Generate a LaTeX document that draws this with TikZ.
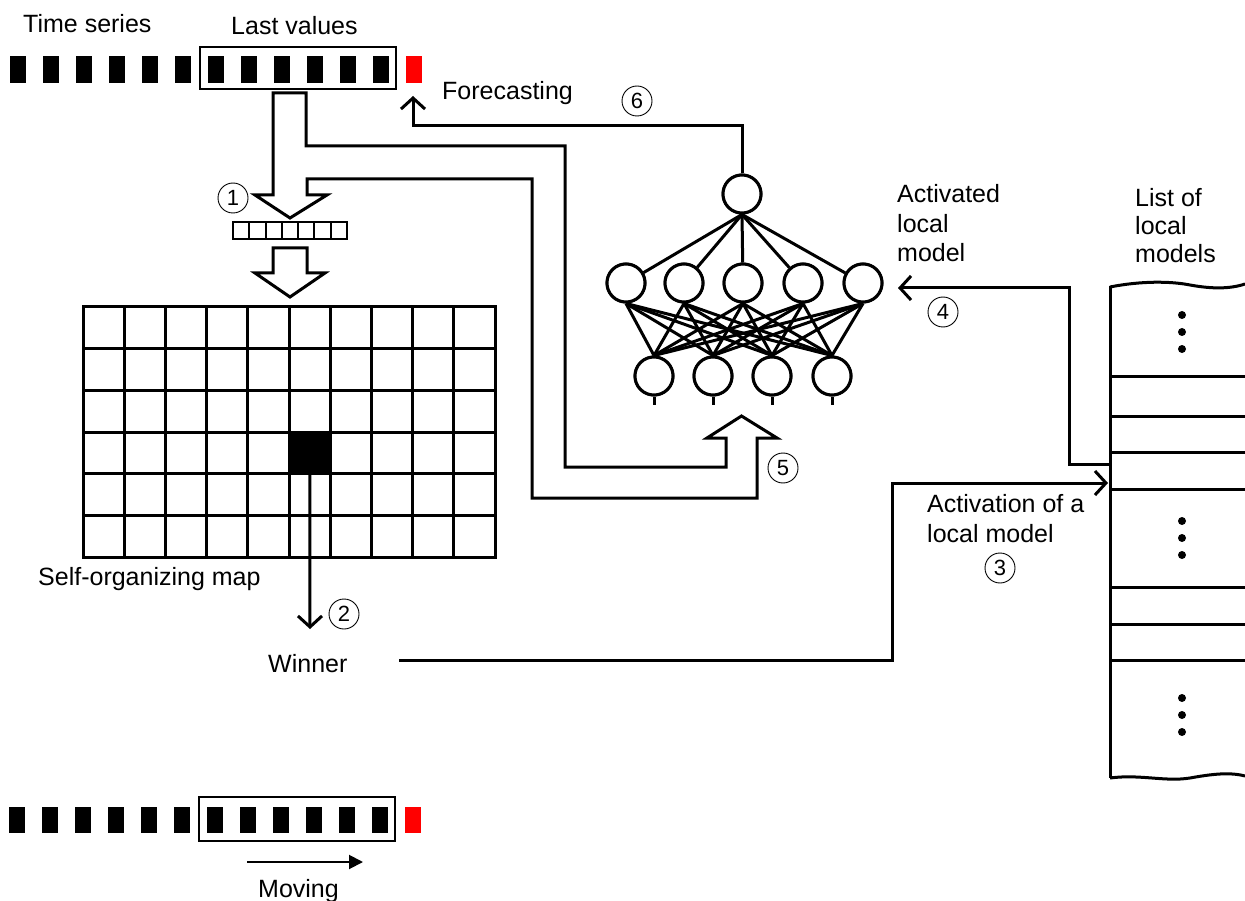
\documentclass[tikz,border=0pt]{standalone}
\usepackage{fontspec}
\setmainfont{Liberation Sans}
\usetikzlibrary{arrows.meta}
\definecolor{fred}{RGB}{255,0,0}
\begin{document}
\begin{tikzpicture}[x=1pt,y=-1pt,
  lbl/.style={anchor=base west,inner sep=0pt,font=\fontsize{25}{30}\selectfont},
  conn/.style={line width=3pt},
  thinbox/.style={line width=2pt},
  num/.style={circle,draw,line width=0.9pt,minimum size=30pt,inner sep=0pt,font=\fontsize{22}{24}\selectfont},
  neuron/.style={circle,draw,line width=3pt,minimum size=38pt,inner sep=0pt,fill=white},
  barb/.style={-{Straight Barb[length=11pt,width=24pt]}},
  hollow/.style={line width=3pt,line join=miter,fill=white},
]
\useasboundingbox (0,0) rectangle (1245,901);

% ---------- top time series ----------
\foreach \k in {0,...,11} \fill ({10+33*\k},56) rectangle ++(16,27);
\fill[fred] (406,56) rectangle ++(16,27);
\draw[thinbox] (200,47) rectangle (396,89);
\node[lbl] (ts) at (23,33) {Time series};
\node[lbl] (lv) at (231,35) {Last values};
\node[inner sep=0pt,minimum width=16pt,minimum height=27pt] (pred) at (414,69.5) {};

% ---------- big hollow split arrow ----------
\draw[hollow] (273,93) -- (306,93) -- (306,146) -- (565,146) -- (565,467) -- (726,467)
  -- (726,438) -- (707,438) -- (741.5,416) -- (777,438) -- (757,438) -- (757,498)
  -- (532,498) -- (532,179) -- (307,179) -- (307,195) -- (327,195) -- (290,218)
  -- (255,195) -- (273,195) -- cycle;

% ---------- input vector ----------
\draw[thinbox] (233,222) rectangle (347,239);
\foreach \i in {1,...,6} \draw[thinbox] ({233+\i*16.286},222) -- ++(0,17);

% second hollow arrow
\draw[hollow] (273,248) -- (307,248) -- (307,273) -- (325,273) -- (290,297) -- (255,273) -- (273,273) -- cycle;

% ---------- self-organizing map ----------
\node[fill=black,inner sep=0pt,minimum width=41.2pt,minimum height=41.7pt,anchor=north west] (wcell) at (289.0,432.0) {};
\foreach \i in {0,...,10} \draw[conn] ({83+\i*41.2},307) -- ({83+\i*41.2},557);
\foreach \j in {0,...,6} \draw[conn,line cap=rect] (83,{307+\j*41.667}) -- (495,{307+\j*41.667});
\node[lbl] (som) at (38,585) {Self-organizing map};

% winner
\node[lbl] (win) at (268,672) {Winner};
\coordinate (wend) at (310,629);
\draw[conn,barb] (wcell.south) -- (wend);
\node[num] (n2) at (344,614) {2};

% ---------- neural network ----------
\node[neuron] (t) at (742,194) {};
\foreach \x [count=\i] in {626,684,743,803,863} \node[neuron] (h\i) at (\x,283) {};
\foreach \x [count=\i] in {654,713,772,832} \node[neuron] (in\i) at (\x,376) {};
\begin{scope}[on background layer/.try]
\end{scope}
\foreach \i in {1,...,5} \draw[conn] (t.south) -- (h\i);
\foreach \i in {1,...,5} \foreach \j in {1,...,4} \draw[conn] (h\i.south) -- (in\j.north);
\foreach \i in {1,...,4} \draw[conn] (in\i.south) -- ++(0,8);
% redraw neurons on top
\foreach \x in {626,684,743,803,863} \draw[line width=3pt,fill=white] (\x,283) circle (19);
\foreach \x in {654,713,772,832} \draw[line width=3pt,fill=white] (\x,376) circle (19);
\draw[line width=3pt,fill=white] (742,194) circle (19);

% forecasting connector
\coordinate (f1) at (742,126);
\coordinate (f2) at (413,126);
\coordinate (f3) at (413,96);
\draw[conn,barb] (t.north) -- (f1) -- (f2) -- (f3);
\node[lbl] (fc) at (442,100) {Forecasting};
\node[num] (n6) at (637,101) {6};

\node[num] (n1) at (233,198) {1};
\node[num] (n5) at (783,468) {5};

% ---------- list of local models ----------
\draw[conn] (1110,287) .. controls (1140,281) and (1170,281) .. (1190,285) .. controls (1212,289) and (1230,289) .. (1245,284);
\draw[conn] (1110,778) .. controls (1140,774) and (1165,782) .. (1190,778) .. controls (1212,774) and (1230,772) .. (1245,776);
\draw[conn] (1110,286) -- (1110,778);
\foreach \y in {376,416,452,489,587,624,660} \draw[conn] (1110,\y) -- (1245,\y);
\foreach \y in {315,332,349,521,538,555,698,715,732} \fill (1182,\y) circle (4);
\node[lbl] (lm1) at (1135,207) {List of};
\node[lbl] (lm2) at (1135,235) {local};
\node[lbl] (lm3) at (1135,263) {models};

% activated local model (4)
\coordinate (a0) at (1110,464);
\coordinate (a1) at (1069,464);
\coordinate (a2) at (1069,288);
\coordinate (a3) at (898,288);
\draw[conn,barb] (a0) -- (a1) -- (a2) -- (a3);
\node[lbl] (al1) at (897,203) {Activated};
\node[lbl] (al2) at (897,233) {local};
\node[lbl] (al3) at (897,262) {model};
\node[num] (n4) at (943,312) {4};

% activation of a local model (3)
\coordinate (w0) at (399,660);
\coordinate (w1) at (892,660);
\coordinate (w2) at (892,483);
\coordinate (w3) at (1108,483);
\draw[conn,barb] (w0) -- (w1) -- (w2) -- (w3);
\node[lbl] (ac1) at (927,512) {Activation of a};
\node[lbl] (ac2) at (927,542) {local model};
\node[num] (n3) at (1000,568) {3};

% ---------- bottom time series ----------
\foreach \k in {0,...,11} \fill ({9+33*\k},807) rectangle ++(16,26);
\fill[fred] (405,807) rectangle ++(16,26);
\draw[thinbox] (199,797) rectangle (395,841);
\coordinate (m0) at (247,862);
\coordinate (m1) at (363,862);
\draw[line width=2pt,-{Triangle[length=14pt,width=14pt]}] (m0) -- (m1);
\node[lbl] (mv) at (258,897) {Moving};
\end{tikzpicture}
\end{document}
